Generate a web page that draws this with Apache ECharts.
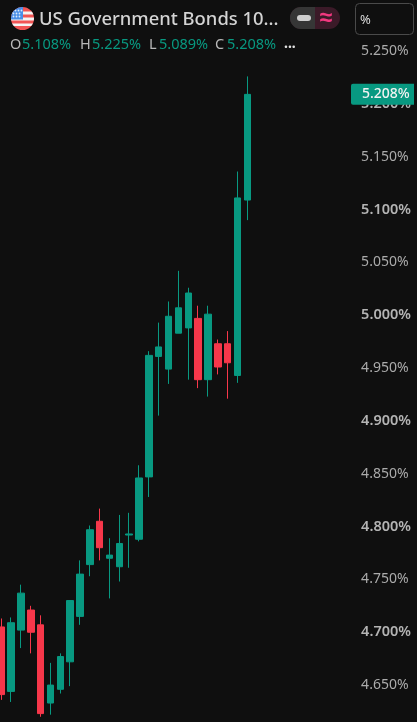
<!DOCTYPE html>
<html>
<head>
<meta charset="utf-8">
<style>html,body{margin:0;padding:0;background:#0f0f0f}#c{width:417px;height:722px}</style>
<script src="https://cdn.jsdelivr.net/npm/echarts@6/dist/echarts.min.js"></script>
</head>
<body>
<div id="c"></div>
<script>
const categories = ['1','2','3','4','5','6','7','8','9','10','11','12','13','14','15','16','17','18','19','20','21','22','23','24','25','26'];
const opens  = [4.704,4.643,4.701,4.720,4.706,4.632,4.645,4.671,4.714,4.763,4.804,4.769,4.761,4.791,4.787,4.846,4.960,4.948,4.982,4.987,4.996,4.938,4.972,4.972,4.942,5.108];
const closes = [4.640,4.708,4.736,4.699,4.622,4.649,4.676,4.729,4.754,4.796,4.779,4.772,4.783,4.792,4.845,4.961,4.969,4.998,5.006,5.020,4.938,5.000,4.950,4.954,5.110,5.208];
const lows   = [4.635,4.633,4.684,4.679,4.619,4.621,4.641,4.648,4.706,4.752,4.767,4.731,4.747,4.760,4.785,4.827,4.904,4.934,4.982,4.938,4.930,4.922,4.943,4.920,4.935,5.089];
const highs  = [4.712,4.713,4.744,4.724,4.715,4.670,4.679,4.729,4.767,4.800,4.816,4.788,4.810,4.812,4.857,4.965,4.992,5.012,5.041,5.025,5.008,5.008,4.976,4.984,5.135,5.225];
const title = 'US Government Bonds 10...';
const ohlcLabels = ['O','H','L','C'];
const ohlcValues = ['5.108%','5.225%','5.089%','5.208%'];

const UP = '#089981', DOWN = '#F7374A', BG = '#0f0f0f';
const FONT = '"Noto Sans", sans-serif';
const flagSvg = '<svg xmlns="http://www.w3.org/2000/svg" width="24" height="24" viewBox="0 0 24 24"><defs><clipPath id="k"><circle cx="12" cy="12" r="11.5"/></clipPath></defs><g clip-path="url(#k)"><rect width="24" height="24" fill="#f25555"/><rect y="5" width="24" height="3" fill="#f5f5f5"/><rect y="11" width="24" height="3" fill="#f5f5f5"/><rect y="17" width="24" height="2.5" fill="#f5f5f5"/><rect width="12.5" height="13" fill="#4a8fe8"/><g fill="#dce9fb"><circle cx="5" cy="4" r=".9"/><circle cx="8" cy="4" r=".9"/><circle cx="11" cy="4" r=".9"/><circle cx="3" cy="7" r=".9"/><circle cx="6" cy="7" r=".9"/><circle cx="9" cy="7" r=".9"/><circle cx="3" cy="10" r=".9"/><circle cx="6" cy="10" r=".9"/><circle cx="9" cy="10" r=".9"/></g></g></svg>';

function txt(x, y, s, fill, size, weight, align) {
  return {type:'text', z:20, x:x, y:y, style:{text:s, fill:fill, font:(weight||400)+' '+size+'px '+FONT, textAlign:align||'left', textVerticalAlign:'middle'}};
}
const ohlcX = [[10,22],[80,92],[149,159],[215,227]];
const headerText = [];
ohlcLabels.forEach((l,i)=>{
  headerText.push(txt(ohlcX[i][0],44.5,l,'#b8b8b8',14.5));
  headerText.push(txt(ohlcX[i][1],44.5,ohlcValues[i],UP,14.5));
});

const chart = echarts.init(document.getElementById('c'), null, {renderer:'canvas'});
chart.setOption({
  animation:false,
  backgroundColor:BG,
  grid:{left:-3.62, width:354.24, top:-2.85, height:739.7, outerBoundsMode:'none', containLabel:false},
  xAxis:{type:'category', data:categories, max:35, boundaryGap:true,
    axisLine:{show:false}, axisTick:{show:false}, axisLabel:{show:false}, splitLine:{show:false}},
  yAxis:{type:'value', position:'right', min:4.6, max:5.3, interval:0.05,
    axisLine:{show:false}, axisTick:{show:false}, splitLine:{show:false},
    axisLabel:{margin:10.5, align:'left', padding:[2,0,0,0], showMinLabel:false, showMaxLabel:false,
      formatter:v=>{const s=v.toFixed(3)+'%';return (Math.round(v*1000)%100===0)?'{b|'+s+'}':'{n|'+s+'}';},
      rich:{n:{color:'#ababab',fontSize:14,fontFamily:FONT,fontWeight:400},
            b:{color:'#b4b4b4',fontSize:14.5,fontFamily:FONT,fontWeight:600}}}},
  series:[{type:'candlestick', barWidth:7, clip:false,
    data:categories.map((_,i)=>[opens[i],closes[i],lows[i],highs[i]]),
    itemStyle:{color:UP,color0:DOWN,borderColor:UP,borderColor0:DOWN,borderWidth:1}}]
});
const tagY = chart.convertToPixel({yAxisIndex:0}, closes[closes.length-1]);
chart.setOption({graphic:{elements:[
  {type:'image', z:20, style:{image:'data:image/svg+xml;utf8,'+encodeURIComponent(flagSvg), x:10.5, y:6.5, width:24, height:24}},
  txt(39,19.5,title,'#d4d4d4',18.4,500),
  ...headerText,
  txt(284,44,'...','#e0e0e0',14,700),
  {type:'rect', z:20, shape:{x:290,y:7,width:50,height:22,r:11}, style:{fill:'#3b1a28'}},
  {type:'rect', z:21, shape:{x:290,y:7,width:25,height:22,r:[11,0,0,11]}, style:{fill:'#363636'}},
  {type:'rect', z:22, shape:{x:297,y:15,width:14,height:6,r:3}, style:{fill:'#cfcfcf'}},
  txt(326,18,'≈','#f2387f',23,700,'center'),
  {type:'rect', z:20, shape:{x:355.5,y:3.5,width:58,height:31,r:4}, style:{fill:BG,stroke:'#4a4a4a',lineWidth:1}},
  txt(360,20,'%','#dcdcdc',13),
  {type:'rect', z:25, shape:{x:351,y:tagY-10.5,width:63,height:21,r:[2,0,0,2]}, style:{fill:UP}},
  {...txt(362,tagY,ohlcValues[3],'#f2f2f2',14,500), z:26}
]}});
</script>
</body>
</html>
